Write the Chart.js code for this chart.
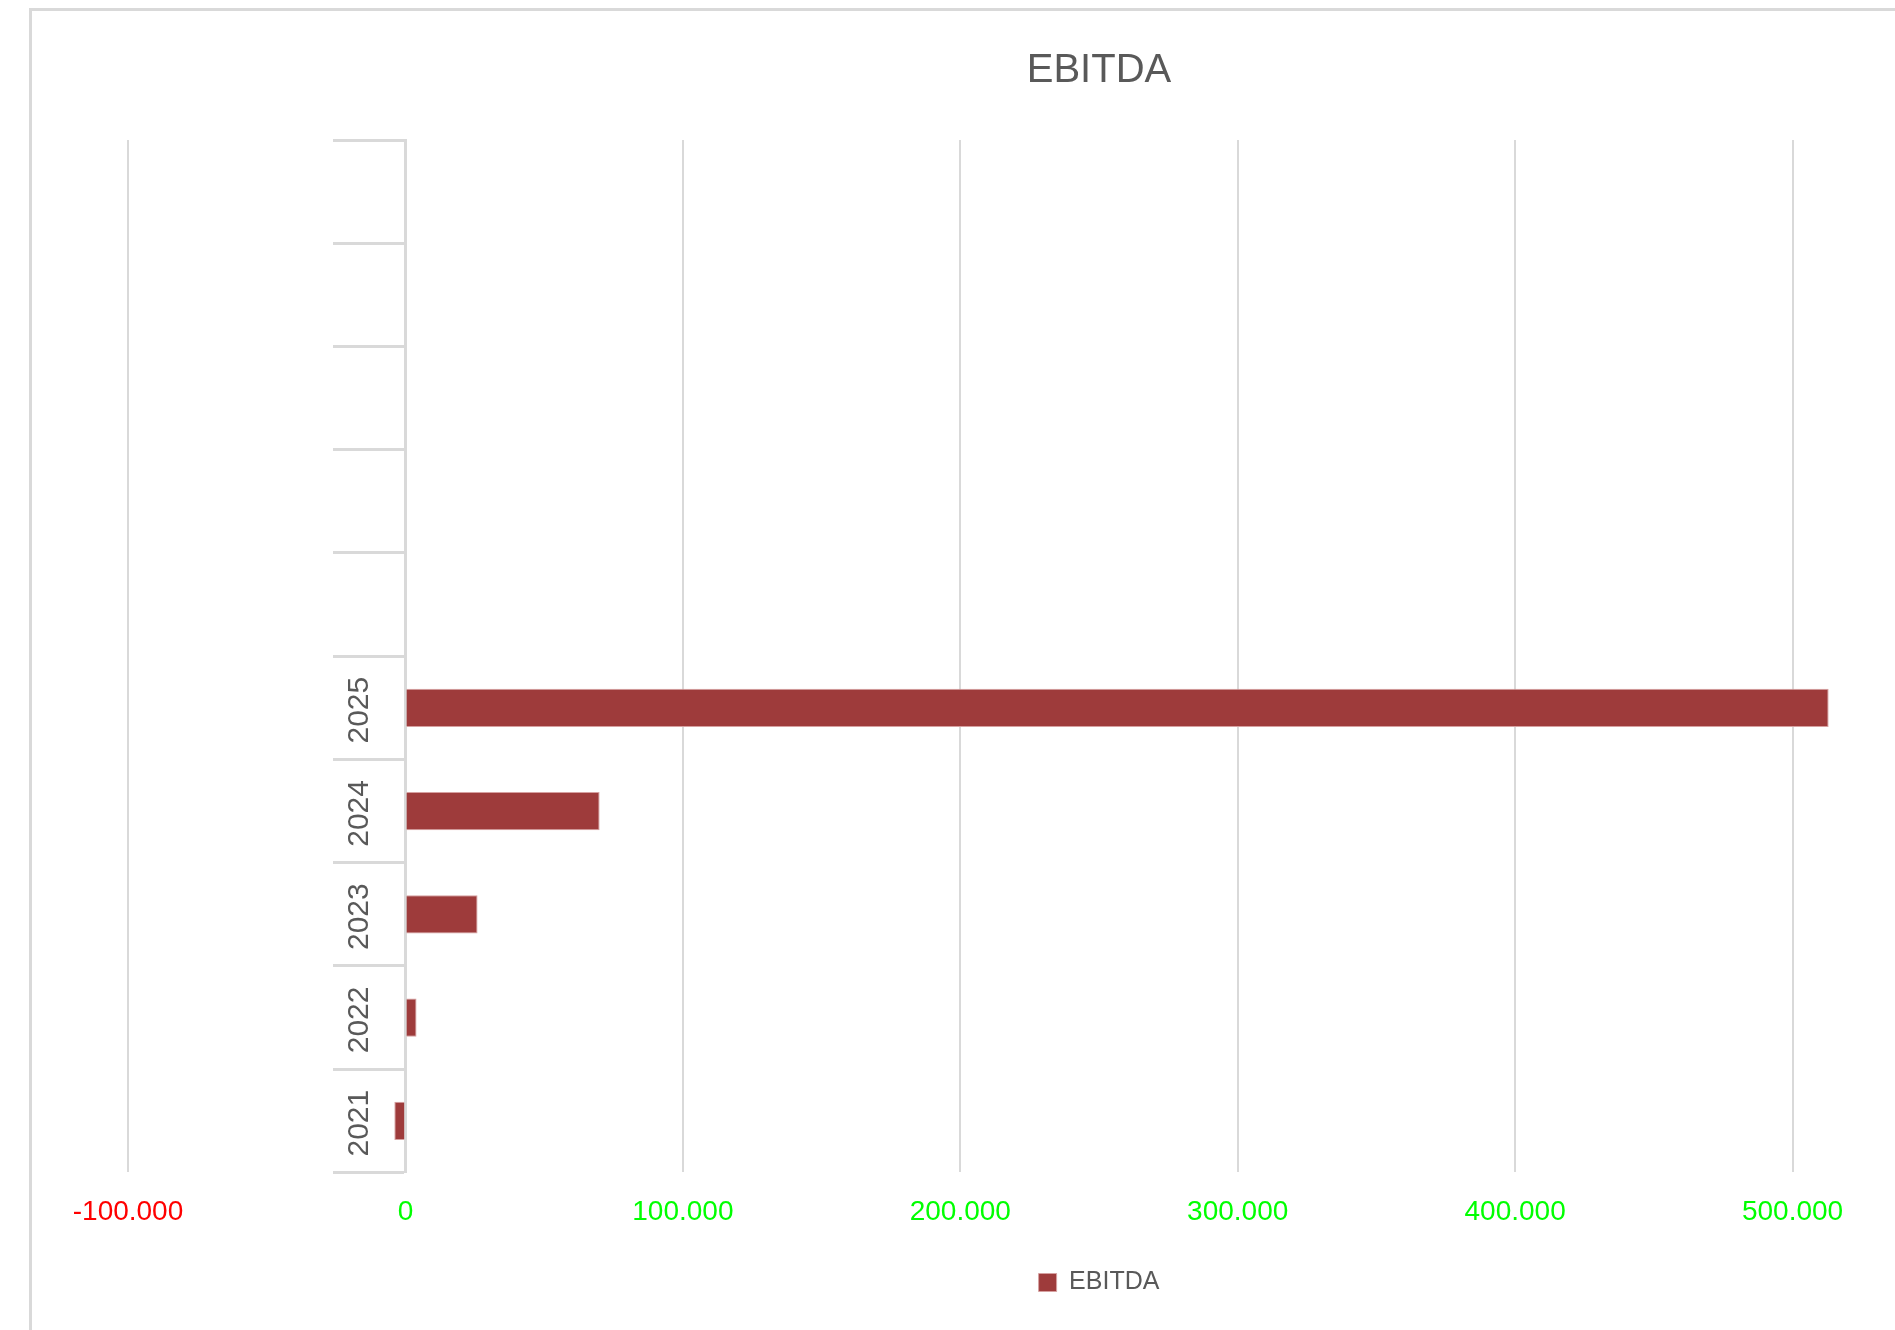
<!DOCTYPE html>
<html>
<head>
<meta charset="utf-8">
<script src="https://cdn.jsdelivr.net/npm/chart.js@4.4.1/dist/chart.umd.min.js"></script>
<style>
  html, body { margin: 0; padding: 0; background: #fff; overflow: hidden; width: 1895px; height: 1330px; }
  #frame { position: absolute; left: 29px; top: 8px; width: 2140px; height: 1340px;
           border-left: 3px solid #d9d9d9; border-top: 3px solid #d9d9d9; }
  #wrap { position: absolute; left: 3px; top: 3px; width: 2126px; height: 1319px; }
</style>
</head>
<body>
<div id="frame"><div id="wrap"><canvas id="myChart"></canvas></div></div>
<script>
// years shown on the category axis, plus the empty rows above them
const years = ["2021", "2022", "2023", "2024", "2025", "", "", "", "", ""];
const ebitda = [-4000, 4000, 26000, 70000, 513000, null, null, null, null, null];
const xMin = -100000;
const xMax = 600000;
const xStep = 100000;

function fmt(v) {
  // danish style thousands separator
  let s = Math.abs(v).toString().replace(/\B(?=(\d{3})+(?!\d))/g, ".");
  return (v < 0 ? "-" : "") + s;
}

var ctx = document.getElementById("myChart").getContext("2d");

var ebitdaChart = new Chart(ctx, {
  type: "bar",
  data: {
    labels: years,
    datasets: [{
      label: "EBITDA",
      data: ebitda,
      backgroundColor: "#9e3b3b",
      borderColor: "#d6a0a0",
      borderWidth: 1,
      barPercentage: 0.37,
      categoryPercentage: 1
    }]
  },
  options: {
    indexAxis: "y",
    responsive: true,
    maintainAspectRatio: false,
    animation: false,
    layout: { padding: { left: 93, right: 91, top: 0, bottom: 28 } },
    plugins: {
      title: {
        display: true,
        text: "EBITDA",
        color: "#595959",
        font: { family: "Liberation Sans", size: 40, weight: "normal" },
        padding: { top: 33, bottom: 45 }
      },
      legend: {
        position: "bottom",
        labels: {
          color: "#595959",
          font: { family: "Liberation Sans", size: 25 },
          boxWidth: 18,
          boxHeight: 18,
          padding: 18
        }
      },
      tooltip: { enabled: false }
    },
    scales: {
      x: {
        min: xMin,
        max: xMax,
        ticks: {
          stepSize: xStep,
          padding: 23,
          font: { family: "Liberation Sans", size: 28 },
          color: (c) => (c.tick && c.tick.value < 0 ? "#ff0000" : "#00ff00"),
          callback: (v) => fmt(v)
        },
        grid: { color: "#d9d9d9", lineWidth: 2, drawTicks: false },
        border: { display: false }
      },
      y: {
        position: { x: 0 },
        reverse: true,
        grid: {
          offset: true,
          drawOnChartArea: false,
          drawTicks: true,
          tickLength: 71,
          tickWidth: 3,
          tickColor: "#d9d9d9"
        },
        border: { display: true, color: "#d9d9d9", width: 3 },
        ticks: {
          minRotation: 90,
          maxRotation: 90,
          padding: 0,
          labelOffset: -31,
          autoSkip: false,
          color: "#595959",
          // second empty line pushes the rotated label left into the tick band
          font: { family: "Liberation Sans", size: 30, lineHeight: "92px" },
          callback: function (v) { return [this.getLabelForValue(v), ""]; }
        }
      }
    }
  }
});
</script>
</body>
</html>
